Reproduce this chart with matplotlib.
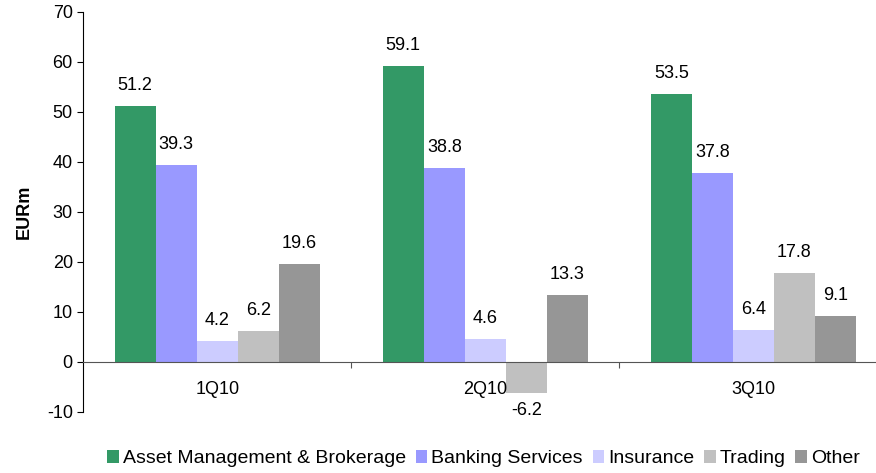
import matplotlib.pyplot as plt
import numpy as np

plt.rcParams['font.family'] = ['Liberation Sans', 'DejaVu Sans']
plt.rcParams['axes.unicode_minus'] = False

quarters = ['1Q10', '2Q10', '3Q10']
series_names = ['Asset Management & Brokerage', 'Banking Services', 'Insurance', 'Trading', 'Other']
asset_mgmt = [51.2, 59.1, 53.5]
banking = [39.3, 38.8, 37.8]
insurance = [4.2, 4.6, 6.4]
trading = [6.2, -6.2, 17.8]
other = [19.6, 13.3, 9.1]
colors = ['#339966', '#9999FF', '#CCCCFF', '#C0C0C0', '#969696']

series = [asset_mgmt, banking, insurance, trading, other]

fig = plt.figure(figsize=(8.76, 4.73), dpi=100)
# the category axis runs a little past the right edge of the picture
ax = fig.add_axes([0.095, 0.129, 0.918, 0.846])

x = np.arange(len(quarters))
w = 0.153
for i, (vals, name, c) in enumerate(zip(series, series_names, colors)):
    pos = x + (i - 2) * w
    ax.bar(pos, vals, w, color=c, label=name)
    for p, v in zip(pos, vals):
        if v >= 0:
            ax.text(p, v + 2.4, f'{v:.1f}', ha='center', va='bottom', fontsize=13)
        else:
            ax.text(p, v - 1.9, f'{v:.1f}', ha='center', va='top', fontsize=13)

ax.set_xlim(-0.5, 2.5)
ax.set_ylim(-10, 70)
ax.set_yticks(range(-10, 71, 10))
ax.tick_params(axis='y', labelsize=13, length=4, direction='out')

# category axis sits at zero
ax.spines['top'].set_visible(False)
ax.spines['right'].set_visible(False)
ax.spines['bottom'].set_position(('data', 0))
ax.spines['bottom'].set_color('#555555')
ax.set_xticks([0.5, 1.5])
ax.set_xticklabels([])
ax.tick_params(axis='x', length=4, direction='out', color='#555555')
for xi, q in zip(x, quarters):
    ax.text(xi, -5.5, q, ha='center', va='center', fontsize=13)

ax.set_ylabel('EURm', fontsize=13, fontweight='bold', labelpad=10)

fig.legend(loc='lower center', bbox_to_anchor=(0.552, -0.025), ncol=5, frameon=False,
           fontsize=14, handlelength=0.6, handleheight=0.7, handletextpad=0.2,
           columnspacing=0.5)

fig.savefig('out.png', dpi=100)
